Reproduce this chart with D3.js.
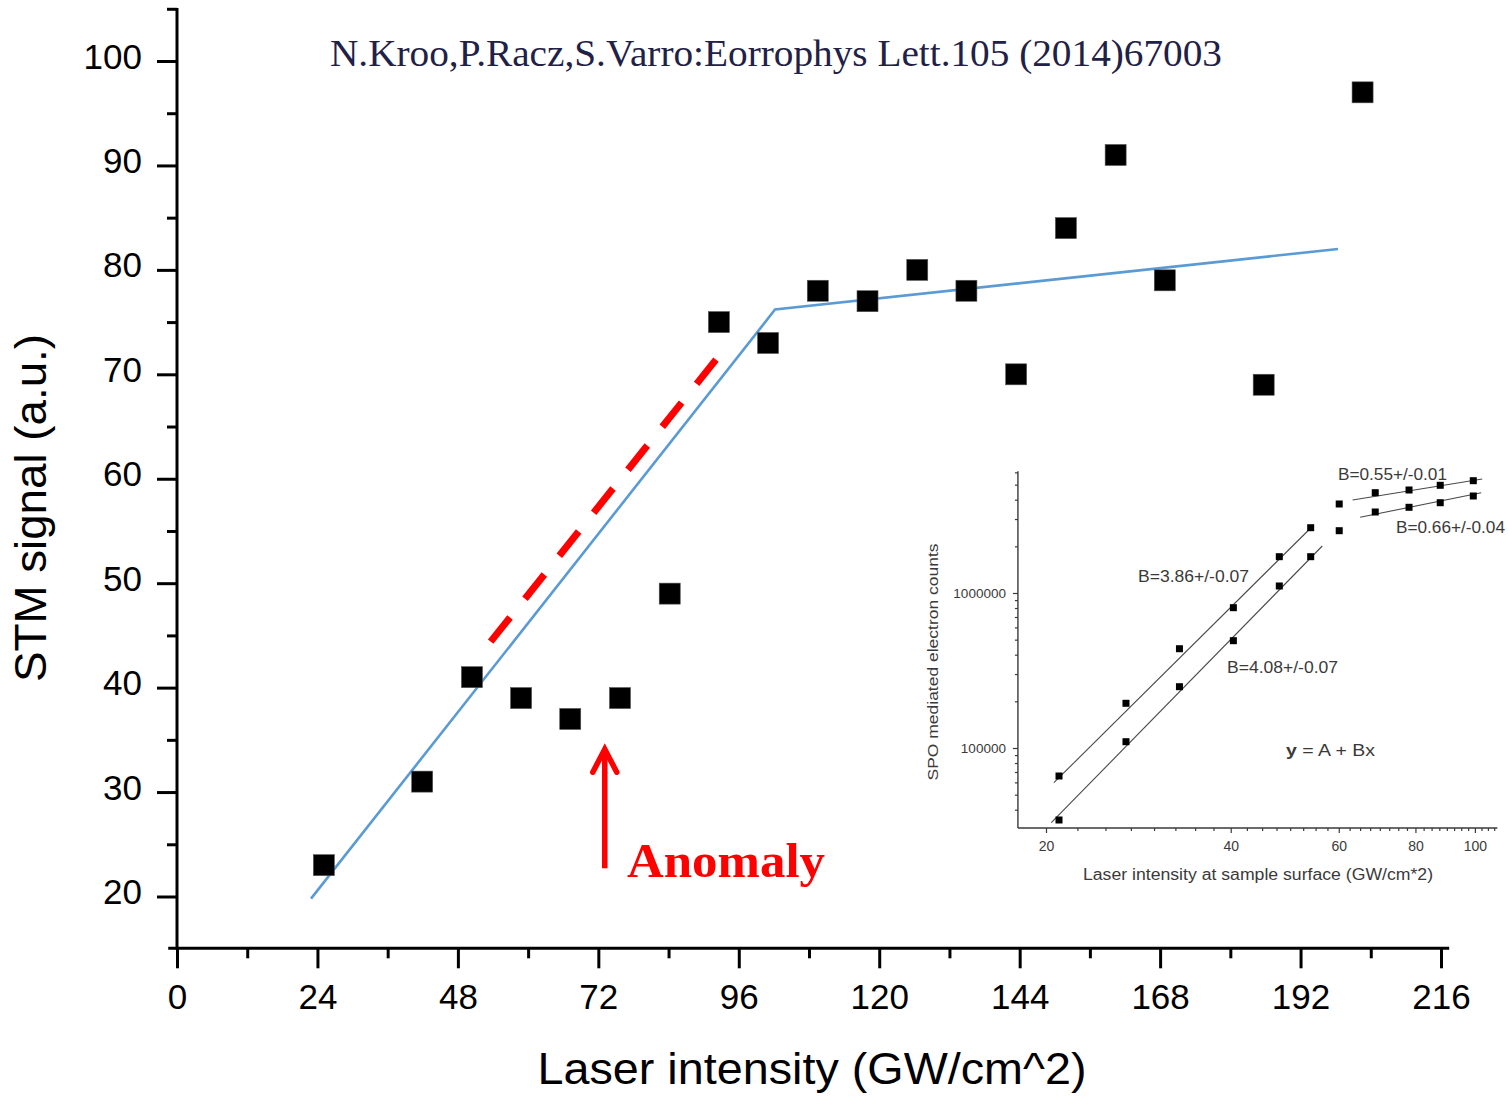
<!DOCTYPE html>
<html>
<head>
<meta charset="utf-8">
<script src="https://cdn.jsdelivr.net/npm/d3@7"></script>
<style>
  body { margin: 0; background: #fff; }
  svg { display: block; }
</style>
</head>
<body>
<svg id="chart" width="1509" height="1096"></svg>
<script>
// ---- Main panel: STM signal vs laser intensity ----
const laserIntensity = [25.1, 41.9, 50.4, 58.8, 67.2, 75.7, 84.2, 92.6, 101.0, 109.5, 118.0, 126.5, 134.9, 143.4, 151.9, 160.4, 168.8, 185.7, 202.6];
const stmSignal      = [23, 31, 41, 39, 37, 39, 49, 75, 73, 78, 77, 80, 78, 70, 84, 91, 79, 69, 97];

// piecewise linear fit (blue) and guide line (red dashed)
const fitX = [22.9, 102.2, 198.4];
const fitY = [19.8, 76.2, 82.0];
const guideX = [53.6, 92.8];
const guideY = [44.4, 71.9];

// anomaly arrow: x position, from / to signal value
const arrowX = 73.1;
const arrowY = [22.7, 34.1];

const xMajorTicks = [0, 24, 48, 72, 96, 120, 144, 168, 192, 216];
const xMinorTicks = [12, 36, 60, 84, 108, 132, 156, 180, 204];
const yMajorTicks = [20, 30, 40, 50, 60, 70, 80, 90, 100];
const yMinorTicks = [25, 35, 45, 55, 65, 75, 85, 95, 105];

// ---- Inset: SPO mediated electron counts (log-log) ----
const insetX = [21.0, 27.0, 33.0, 40.4, 48.0, 54.0, 60.1, 68.8, 78.1, 87.8, 99.4];
const insetUpper = [65980, 194300, 437000, 804000, 1715000, 2638000, 3752000, 4438000, 4619000, 4953000, 5303000];
const insetLower = [34320, 109800, 248600, 492400, 1110000, 1715000, 2523000, 3331000, 3572000, 3824000, 4225000];

// fitted slopes in the inset (x pairs, y pairs)
const insetFitLowX  = [[20.6, 53.6], [20.4, 56.4]];
const insetFitLowY  = [[59720, 2550000], [32970, 2010000]];
const insetFitHighX = [[63.2, 102.8], [65.0, 102.4]];
const insetFitHighY = [[3981000, 5439000], [3078000, 4438000]];

const insetXMajor = [20, 40, 60, 80, 100];
const insetXMinor = [22.5, 25, 27.5, 30, 32.5, 35, 37.5, 42.5, 45, 47.5, 50, 52.5, 55, 57.5,
                     62.5, 65, 67.5, 70, 72.5, 75, 77.5, 82.5, 85, 87.5, 90, 92.5, 95, 97.5,
                     102.5, 105, 107.5];
const insetYMajor = [100000, 1000000];
const insetYMinor = [40000, 50000, 60000, 70000, 80000, 90000,
                     200000, 300000, 400000, 500000, 600000, 700000, 800000, 900000,
                     2000000, 3000000, 4000000, 5000000, 6000000];

const svg = d3.select("#chart");
const SANS = "'Liberation Sans', Arial, sans-serif";
const SERIF = "'Liberation Serif', 'Times New Roman', serif";

// scales
const x = d3.scaleLinear().domain([0, 216]).range([177, 1441]);
const y = d3.scaleLinear().domain([20, 100]).range([896.5, 61]);
const xAxisY = y(15.04);
const yAxisTop = y(105.07);

// axis lines
svg.append("line").attr("x1", x(0)).attr("x2", x(0)).attr("y1", yAxisTop).attr("y2", xAxisY + 1.5)
  .attr("stroke", "#000").attr("stroke-width", 3);
svg.append("line").attr("x1", x(-1.5)).attr("x2", x(217.4)).attr("y1", xAxisY).attr("y2", xAxisY)
  .attr("stroke", "#000").attr("stroke-width", 3);

function styleAxis(g, fontSize) {
  g.select(".domain").remove();
  g.selectAll(".tick line").attr("stroke", "#000").attr("stroke-width", 3);
  g.selectAll(".tick text").attr("fill", "#000").style("font-family", SANS).style("font-size", fontSize + "px");
}

// y axis
const gy = svg.append("g").attr("transform", `translate(${x(0)},0)`)
  .call(d3.axisLeft(y).tickValues(yMajorTicks).tickSize(20).tickPadding(15).tickFormat(d3.format("d")));
styleAxis(gy, 35);
gy.selectAll(".tick text").attr("dy", "0.2em");
const gyMinor = svg.append("g").attr("transform", `translate(${x(0)},0)`)
  .call(d3.axisLeft(y).tickValues(yMinorTicks).tickSize(10).tickFormat(""));
styleAxis(gyMinor, 35);

// x axis
const gx = svg.append("g").attr("transform", `translate(0,${xAxisY})`)
  .call(d3.axisBottom(x).tickValues(xMajorTicks).tickSize(20).tickPadding(16).tickFormat(d3.format("d")));
styleAxis(gx, 35);
const gxMinor = svg.append("g").attr("transform", `translate(0,${xAxisY})`)
  .call(d3.axisBottom(x).tickValues(xMinorTicks).tickSize(10).tickFormat(""));
styleAxis(gxMinor, 35);

// axis titles
svg.append("text")
  .attr("transform", `translate(46,508) rotate(-90)`)
  .attr("text-anchor", "middle")
  .attr("textLength", 348).attr("lengthAdjust", "spacingAndGlyphs")
  .style("font-family", SANS).style("font-size", "44px").attr("fill", "#000")
  .text("STM signal (a.u.)");
svg.append("text")
  .attr("x", 812).attr("y", 1084)
  .attr("text-anchor", "middle")
  .attr("textLength", 549).attr("lengthAdjust", "spacingAndGlyphs")
  .style("font-family", SANS).style("font-size", "44px").attr("fill", "#000")
  .text("Laser intensity (GW/cm^2)");

// citation
svg.append("text")
  .attr("x", 330).attr("y", 66)
  .attr("textLength", 892).attr("lengthAdjust", "spacingAndGlyphs")
  .style("font-family", SERIF).style("font-size", "37px").attr("fill", "#1f2147")
  .text("N.Kroo,P.Racz,S.Varro:Eorrophys Lett.105 (2014)67003");

// fit line
const line = d3.line().x(d => x(d[0])).y(d => y(d[1]));
svg.append("path")
  .datum(d3.zip(fitX, fitY))
  .attr("d", line)
  .attr("fill", "none").attr("stroke", "#5b9bd5").attr("stroke-width", 2.6);

// dashed guide
svg.append("path")
  .datum(d3.zip(guideX, guideY))
  .attr("d", line)
  .attr("fill", "none").attr("stroke", "#ff0000").attr("stroke-width", 7)
  .attr("stroke-dasharray", "31 24");

// data squares
const sq = 21;
svg.append("g").selectAll("rect")
  .data(d3.zip(laserIntensity, stmSignal))
  .join("rect")
  .attr("x", d => x(d[0]) - sq / 2).attr("y", d => y(d[1]) - sq / 2)
  .attr("width", sq).attr("height", sq)
  .attr("fill", "#000").attr("stroke", "#555").attr("stroke-width", 0.6);

// anomaly arrow
const ax = x(arrowX), ay0 = y(arrowY[0]), ay1 = y(arrowY[1]);
svg.append("line").attr("x1", ax).attr("x2", ax).attr("y1", ay0).attr("y2", ay1 + 2)
  .attr("stroke", "#ff0000").attr("stroke-width", 5.5);
svg.append("path")
  .attr("d", `M${ax - 12},${ay1 + 23} L${ax},${ay1} L${ax + 12},${ay1 + 23}`)
  .attr("fill", "none").attr("stroke", "#ff0000").attr("stroke-width", 5.5)
  .attr("stroke-linecap", "round").attr("stroke-linejoin", "miter");
svg.append("text")
  .attr("x", 627).attr("y", 877)
  .attr("textLength", 198).attr("lengthAdjust", "spacingAndGlyphs")
  .style("font-family", SERIF).style("font-size", "49px").style("font-weight", "bold")
  .attr("fill", "#ff0000")
  .text("Anomaly");

// ---- inset ----
const inset = svg.append("g");
const ix = d3.scaleLog().domain([20, 100]).range([1046, 1474.9]);
const iy = d3.scaleLog().domain([1e5, 1e6]).range([748, 593]);
const INK = "#3a3a3a";
const iLeft = ix(18.0), iRight = ix(108.8), iTop = iy(6.1e6), iBottom = iy(30470);

inset.append("line").attr("x1", iLeft).attr("x2", iLeft).attr("y1", iTop).attr("y2", iBottom)
  .attr("stroke", INK).attr("stroke-width", 1.4);
inset.append("line").attr("x1", iLeft).attr("x2", iRight).attr("y1", iBottom).attr("y2", iBottom)
  .attr("stroke", INK).attr("stroke-width", 1.4);

function styleInset(g, size) {
  g.select(".domain").remove();
  g.selectAll(".tick line").attr("stroke", INK).attr("stroke-width", 1.2);
  g.selectAll(".tick text").attr("fill", INK).style("font-family", SANS).style("font-size", (size || 13.5) + "px");
}
const ixMaj = inset.append("g").attr("transform", `translate(0,${iBottom})`)
  .call(d3.axisBottom(ix).tickValues(insetXMajor).tickSize(5).tickPadding(8).tickFormat(d3.format("d")));
styleInset(ixMaj, 14);
const ixMin = inset.append("g").attr("transform", `translate(0,${iBottom})`)
  .call(d3.axisBottom(ix).tickValues(insetXMinor).tickSize(3).tickFormat(""));
styleInset(ixMin);
const iyMaj = inset.append("g").attr("transform", `translate(${iLeft},0)`)
  .call(d3.axisLeft(iy).tickValues(insetYMajor).tickSize(5).tickPadding(7).tickFormat(d3.format("d")));
styleInset(iyMaj, 13.5);
const iyMin = inset.append("g").attr("transform", `translate(${iLeft},0)`)
  .call(d3.axisLeft(iy).tickValues(insetYMinor).tickSize(3).tickFormat(""));
styleInset(iyMin);

// inset fitted lines
const iline = d3.line().x(d => ix(d[0])).y(d => iy(d[1]));
[...insetFitLowX.map((xs, i) => d3.zip(xs, insetFitLowY[i])),
 ...insetFitHighX.map((xs, i) => d3.zip(xs, insetFitHighY[i]))].forEach(seg => {
  inset.append("path").datum(seg).attr("d", iline)
    .attr("fill", "none").attr("stroke", "#4a4a4a").attr("stroke-width", 1.1);
});

// inset points
const isq = 7;
[insetUpper, insetLower].forEach(series => {
  inset.append("g").selectAll("rect")
    .data(d3.zip(insetX, series))
    .join("rect")
    .attr("x", d => ix(d[0]) - isq / 2).attr("y", d => iy(d[1]) - isq / 2)
    .attr("width", isq).attr("height", isq).attr("fill", "#000");
});

// inset annotations
function insetText(txt, xPos, yPos, size, len, weight) {
  return inset.append("text").attr("x", xPos).attr("y", yPos)
    .attr("textLength", len).attr("lengthAdjust", "spacingAndGlyphs")
    .style("font-family", SANS).style("font-size", size + "px")
    .style("font-weight", weight || "normal").attr("fill", INK).text(txt);
}
insetText("B=0.55+/-0.01", 1338, 480, 16, 109);
insetText("B=0.66+/-0.04", 1396, 533, 16, 109);
insetText("B=3.86+/-0.07", 1138, 582, 16, 111);
insetText("B=4.08+/-0.07", 1227, 673, 16, 111);
const eq = inset.append("text").attr("x", 1286).attr("y", 756)
  .attr("textLength", 89).attr("lengthAdjust", "spacingAndGlyphs")
  .style("font-family", SANS).style("font-size", "17px").attr("fill", INK);
eq.append("tspan").style("font-weight", "bold").text("y");
eq.append("tspan").text(" = A + Bx");

inset.append("text")
  .attr("x", 1258).attr("y", 880).attr("text-anchor", "middle")
  .attr("textLength", 350).attr("lengthAdjust", "spacingAndGlyphs")
  .style("font-family", SANS).style("font-size", "16px").attr("fill", INK)
  .text("Laser intensity at sample surface (GW/cm*2)");
inset.append("text")
  .attr("transform", `translate(938,662) rotate(-90)`)
  .attr("text-anchor", "middle")
  .attr("textLength", 237).attr("lengthAdjust", "spacingAndGlyphs")
  .style("font-family", SANS).style("font-size", "14px").attr("fill", INK)
  .text("SPO mediated electron counts");
</script>
</body>
</html>
